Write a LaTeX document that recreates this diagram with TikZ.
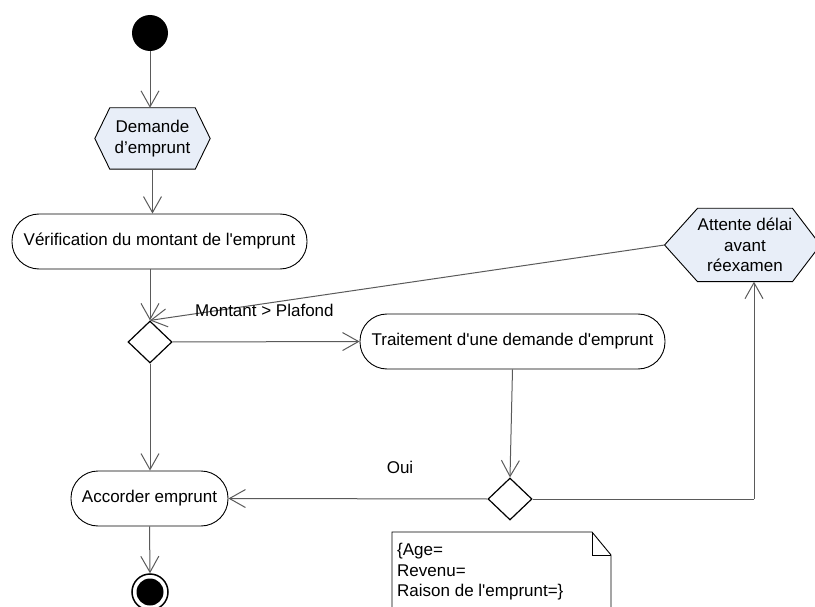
\documentclass[tikz,border=0pt]{standalone}
\usepackage{fontspec}
\setmainfont{Liberation Sans}
\usetikzlibrary{arrows.meta,calc,backgrounds,shapes.geometric}
\definecolor{hexfill}{RGB}{232,238,248}
\definecolor{flowgray}{RGB}{90,90,90}
\newcommand{\sq}{\textquotesingle}
\begin{document}
\begin{tikzpicture}[x=1pt,y=-1pt,
  every node/.style={font=\fontsize{17}{20.5}\selectfont, inner sep=0pt, text=black},
  flow/.style={draw=flowgray, line width=1pt, -{Straight Barb[length=16pt,width=18pt,line width=1pt]}},
  plainflow/.style={draw=flowgray, line width=1pt},
  activity/.style={draw=black, line width=0.9pt, rectangle, rounded corners=27pt, minimum height=55pt, align=center},
  decision/.style={draw=black, line width=1.2pt, diamond, minimum width=44pt, minimum height=42pt},
  hexbox/.style={align=center},
  hexshape/.style={draw=black, line width=0.9pt, fill=hexfill},
  notebox/.style={draw=black, line width=0.9pt, fill=white}]

\clip (0,0) rectangle (815,607);

% start and end points
\node[circle, fill=black, minimum size=36pt] (init) at (150,33) {};
\node[circle, draw=black, line width=1.5pt, fill=white, minimum size=36pt] (final) at (150,592) {};
\fill[black] (final) circle (13.5pt);

% hexagonal nodes (text holders; outlines drawn behind)
\node[hexbox, minimum width=85pt, minimum height=61pt] (ask) at (152.5,138.5) {Demande\\d’emprunt};
\node[hexbox, minimum width=94pt, minimum height=73pt] (wait) at (745,245) {Attente délai\\avant\\réexamen};
\begin{scope}[on background layer]
  \draw[hexshape] (ask.north west) -- (ask.north east) -- ($(ask.east)+(15,0)$)
    -- (ask.south east) -- (ask.south west) -- ($(ask.west)+(-15,0)$) -- cycle;
  \draw[hexshape] (wait.north west) -- (wait.north east) -- ($(wait.east)+(28,0)$)
    -- (wait.south east) -- (wait.south west) -- ($(wait.west)+(-33,0)$) -- cycle;
\end{scope}
\coordinate (waittip) at ($(wait.west)+(-33,0)$);

% activities
\node[activity, minimum width=295pt] (check) at (159.5,241.5) {Vérification du montant de l\sq emprunt};
\node[activity, minimum width=305pt] (process) at (512.5,341.5) {Traitement d\sq une demande d\sq emprunt};
\node[activity, minimum width=157pt] (grant) at (149.5,498.5) {Accorder emprunt};

% decisions
\node[decision] (d1) at (150,342) {};
\node[decision] (d2) at (510,499) {};

% note
\draw[notebox] (392,532) -- (592,532) -- (611,555) -- (611,612) -- (392,612) -- cycle;
\draw[black, line width=0.9pt] (592,532) -- (592,555) -- (611,555);
\node[anchor=west, align=left] (attrs) at (397,572) {\{Age=\\Revenu=\\Raison de l\sq emprunt=\}};

% connectors
\draw[flow] (init.south) -- (init.south |- ask.north);
\draw[flow] (ask.south) -- (ask.south |- check.north);
\draw[flow] (d1.north |- check.south) -- (d1.north);
\draw[flow] (waittip) -- (d1.north);
\draw[flow] (d1.east) -- (process.west);
\draw[flow] (d1.south) -- (d1.south |- grant.north);
\draw[flow] (process.south) -- (d2.north);
\draw[flow] (d2.west) -- (grant.east);
\coordinate (turn) at (754,499);
\draw[plainflow] (d2.east) -- (turn);
\draw[flow] (turn) -- (turn |- wait.south);
\draw[flow] (grant.south) -- (final.north);

% guard labels
\node[anchor=west] (guard1) at (195,310) {Montant > Plafond};
\node (guard2) at (400,467) {Oui};
\end{tikzpicture}
\end{document}
